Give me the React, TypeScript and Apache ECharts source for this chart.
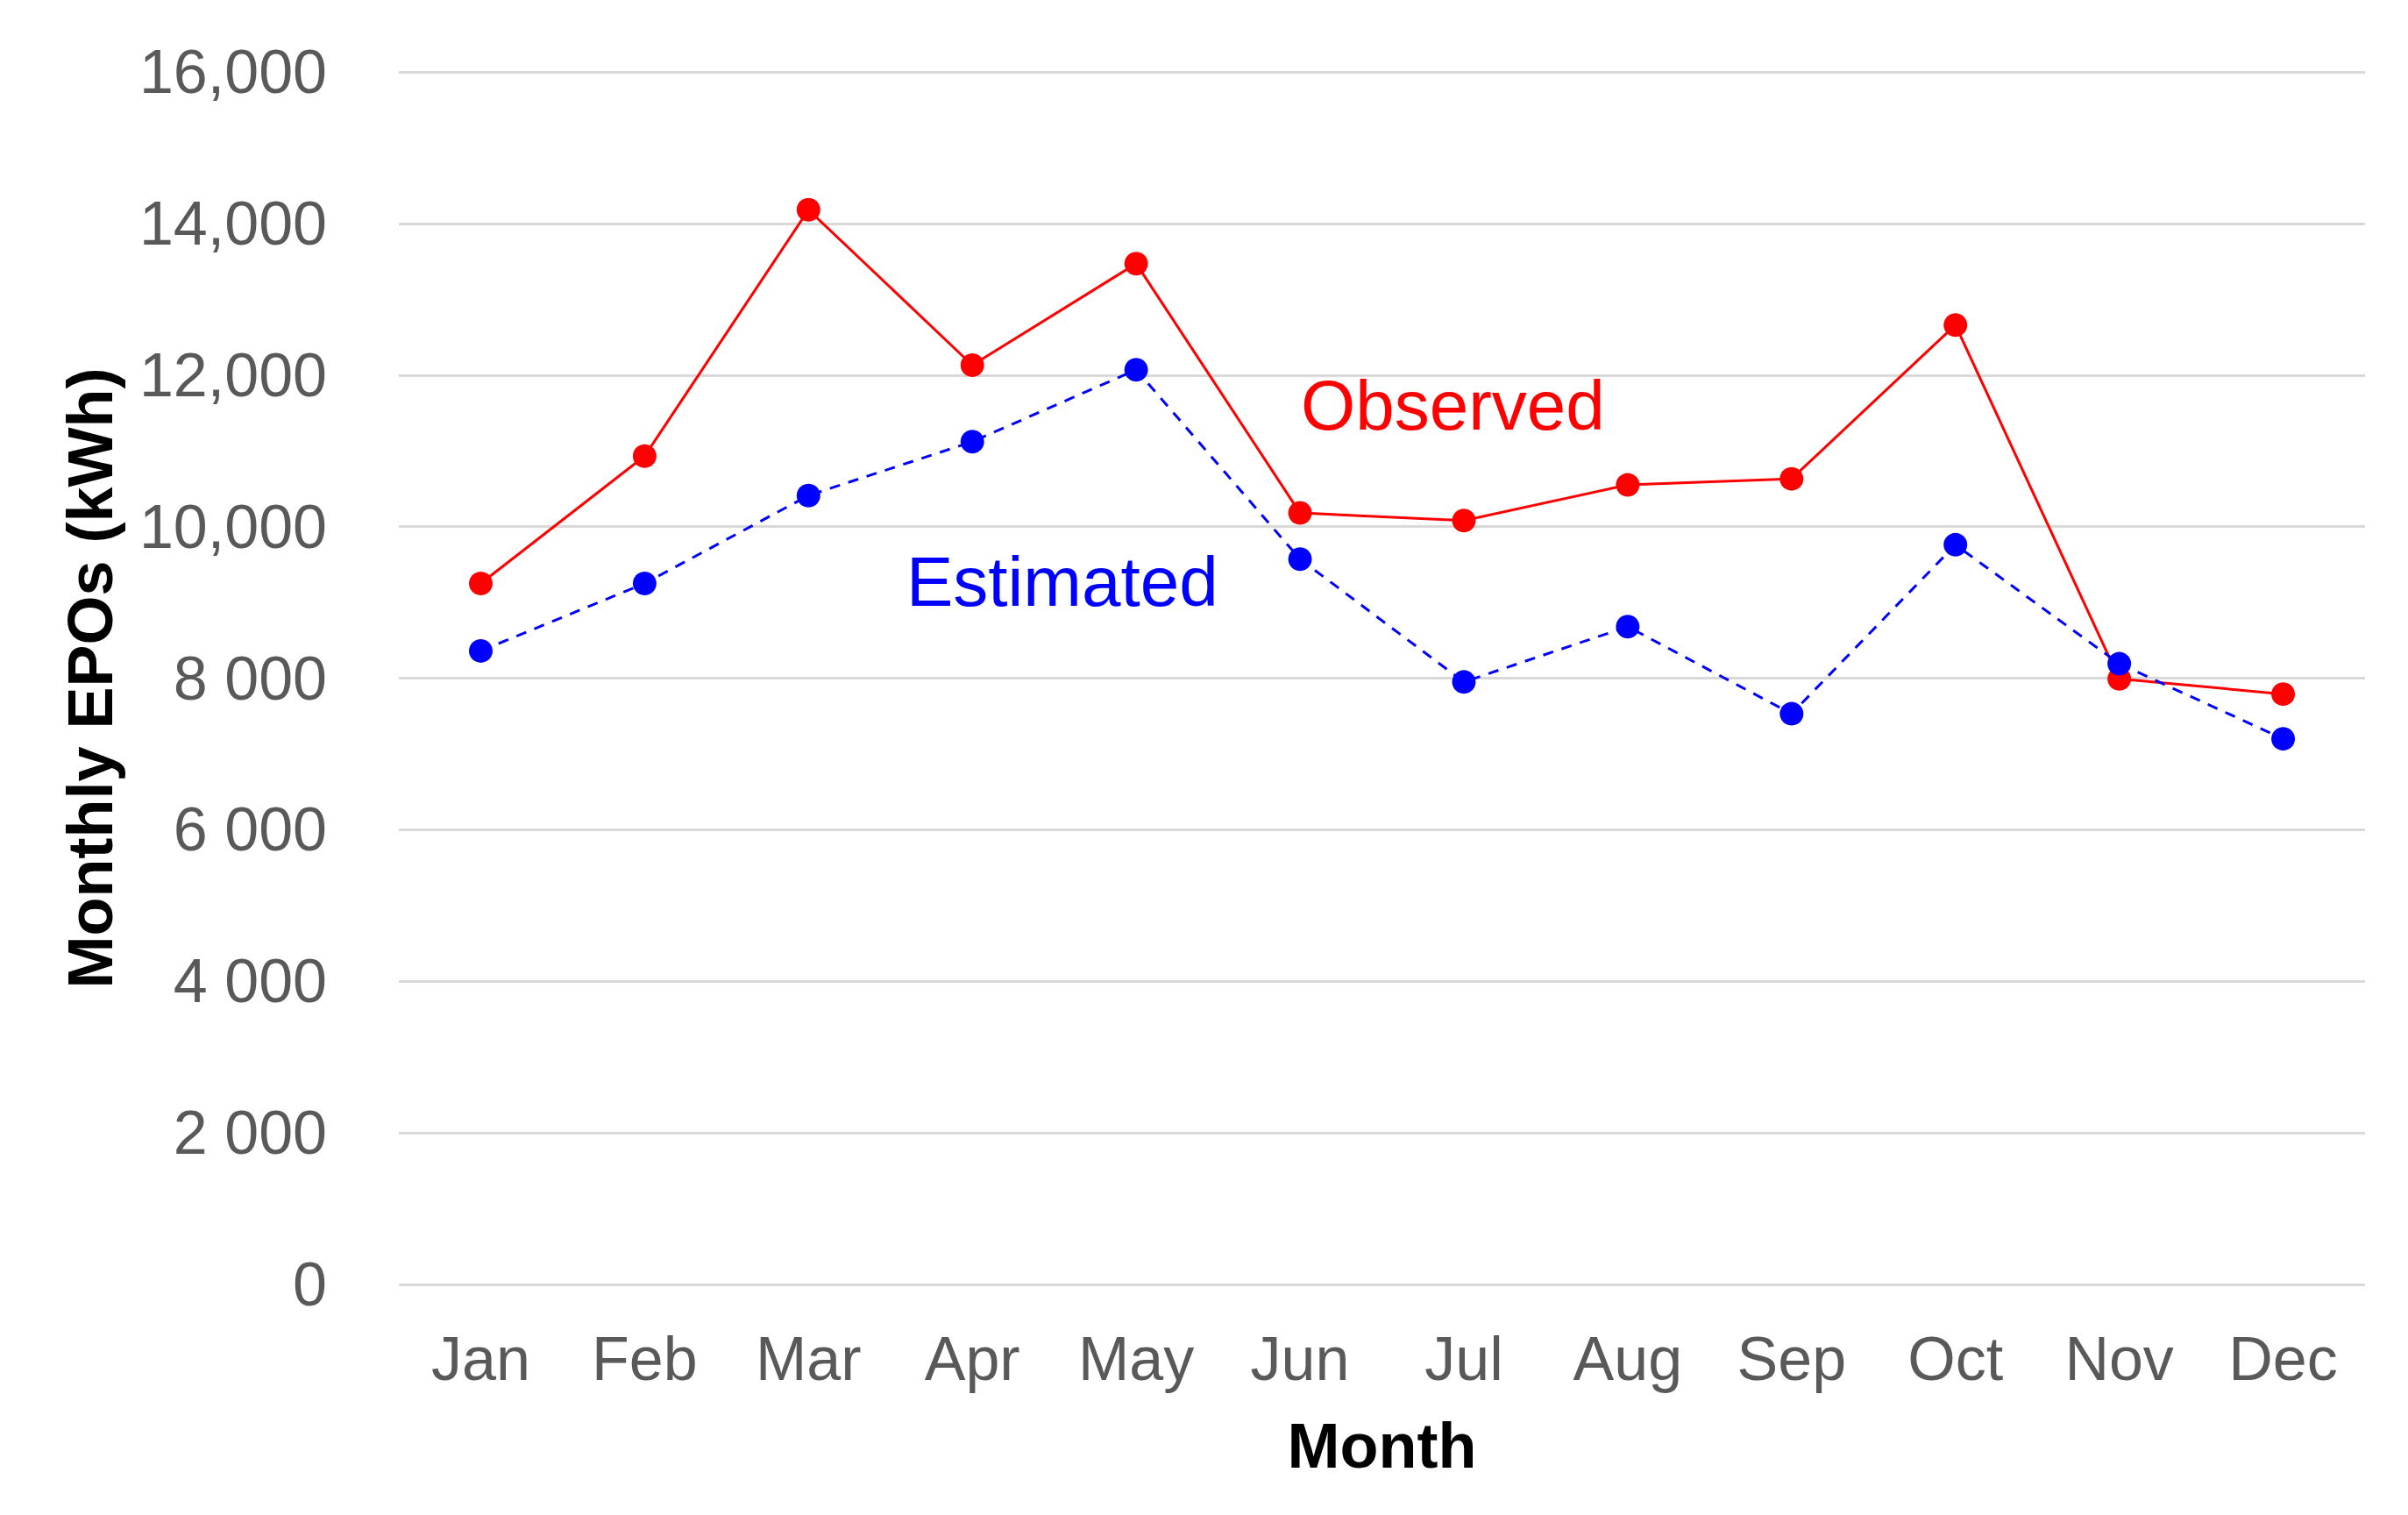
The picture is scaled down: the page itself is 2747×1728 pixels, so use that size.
import React, { useEffect, useRef } from "react";
import * as echarts from "echarts";

const months = ["Jan", "Feb", "Mar", "Apr", "May", "Jun", "Jul", "Aug", "Sep", "Oct", "Nov", "Dec"];
const observed = [9250, 10930, 14180, 12130, 13470, 10180, 10080, 10550, 10630, 12660, 7990, 7790];
const estimated = [8360, 9250, 10410, 11120, 12070, 9570, 7950, 8680, 7530, 9760, 8190, 7200];
const yTickLabels = ["0", "2 000", "4 000", "6 000", "8 000", "10,000", "12,000", "14,000", "16,000"];

const FONT = "'Liberation Sans', Arial, sans-serif";

export default function App() {
  const ref = useRef<HTMLDivElement>(null);
  useEffect(() => {
    document.body.style.margin = "0";
    const chart = echarts.init(ref.current!, null, { renderer: "svg" });
    chart.setOption({
      animation: false,
      backgroundColor: "#ffffff",
      grid: { left: 455, right: 49, top: 82, bottom: 263, containLabel: false },
      xAxis: {
        type: "category",
        data: months,
        boundaryGap: true,
        axisLine: { show: false },
        axisTick: { show: false },
        axisLabel: { color: "#595959", fontSize: 70, fontFamily: FONT, margin: 50 },
        name: "Month",
        nameLocation: "middle",
        nameGap: 148,
        nameTextStyle: { color: "#000000", fontSize: 72, fontWeight: "bold", fontFamily: FONT },
      },
      yAxis: {
        type: "value",
        min: 0,
        max: 16000,
        interval: 2000,
        axisLine: { show: false },
        axisTick: { show: false },
        splitLine: { lineStyle: { color: "#D9D9D9", width: 3 } },
        axisLabel: {
          color: "#595959",
          fontSize: 70,
          fontFamily: FONT,
          margin: 82,
          formatter: (v: number) => yTickLabels[Math.round(v / 2000)] ?? String(v),
        },
        name: "Monthly EPOs (kWh)",
        nameLocation: "middle",
        nameGap: 316,
        nameTextStyle: { color: "#000000", fontSize: 72, fontWeight: "bold", fontFamily: FONT },
      },
      series: [
        {
          name: "Observed",
          type: "line",
          data: observed,
          symbol: "circle",
          symbolSize: 27,
          lineStyle: { color: "#FF0000", width: 3 },
          itemStyle: { color: "#FF0000" },
          z: 2,
        },
        {
          name: "Estimated",
          type: "line",
          data: estimated,
          symbol: "circle",
          symbolSize: 27,
          lineStyle: { color: "#0000FF", width: 3, type: [12, 10] },
          itemStyle: { color: "#0000FF" },
          z: 3,
        },
      ],
      graphic: [
        {
          type: "text",
          left: 1484,
          top: 422,
          style: { text: "Observed", fill: "#FF0000", fontSize: 80, fontFamily: FONT },
        },
        {
          type: "text",
          left: 1034,
          top: 623,
          style: { text: "Estimated", fill: "#0000FF", fontSize: 80, fontFamily: FONT },
        },
      ],
    });
    return () => chart.dispose();
  }, []);
  return <div ref={ref} style={{ width: 2747, height: 1728 }} />;
}
